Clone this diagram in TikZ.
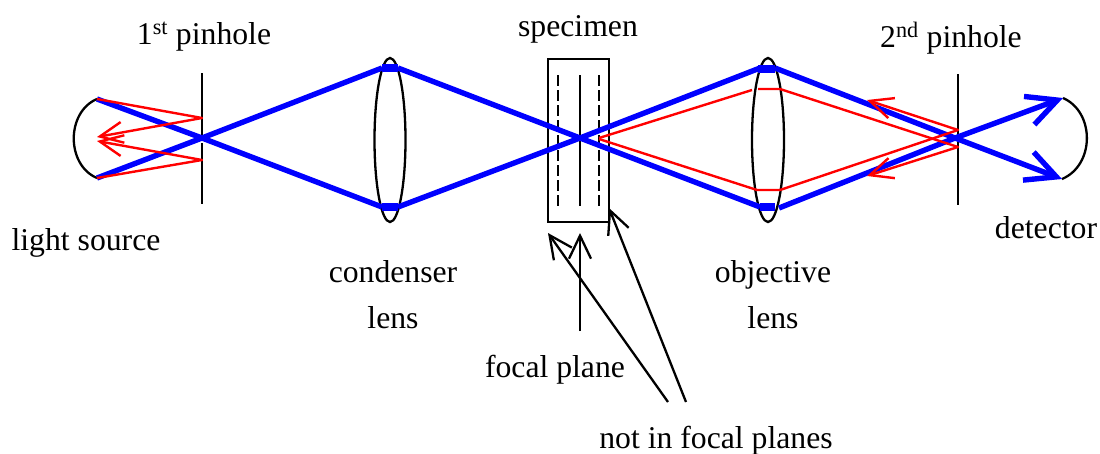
\documentclass[tikz,border=0pt]{standalone}
\usepackage{fontspec}
\setmainfont{Liberation Serif}
\usetikzlibrary{arrows.meta}
\tikzset{
  label text/.style={anchor=base,inner sep=0pt,font=\fontsize{31.7}{36}\selectfont},
  optic/.style={line width=2.3pt},
  blue ray/.style={blue,line width=5.4pt,line join=round},
  blue bar/.style={blue,line width=7.5pt},
  red ray/.style={red,line width=2.4pt,line join=round},
  black tip/.style={-{Straight Barb[length=23pt,width=22pt]}},
  red tip/.style={-{Straight Barb[length=23pt,width=21pt]}},
  blue tip/.style={-{Straight Barb[length=30pt,width=30pt]}},
}
\begin{document}
\begin{tikzpicture}[x=1pt,y=-1pt]
  \useasboundingbox (0,0) rectangle (1100,453);
  \coordinate (srcT) at (97,99);
  \coordinate (srcB) at (97,178);
  \coordinate (hole1) at (202,138);
  \coordinate (hole1T) at (202,118);
  \coordinate (hole1B) at (202,160);
  \coordinate (focus) at (580,138);
  \coordinate (hole2) at (955,138);
  \coordinate (hole2T) at (958,130);
  \coordinate (hole2B) at (958,147);
  \coordinate (detT) at (1063,98);
  \coordinate (detB) at (1062,179);

  \draw[optic] (srcT) .. controls (66,112) and (66,165) .. (srcB);
  \draw[optic] (detT) .. controls (1095,112) and (1095,165) .. (detB);
  \draw[optic] (202,73)--(202,139) (202,143)--(202,204);
  \draw[optic] (958,74)--(958,205);
  \draw[optic] (390,140) ellipse[x radius=15.5,y radius=82];
  \draw[optic] (768,140) ellipse[x radius=16,y radius=82];
  \draw[optic] (548,59) rectangle (609,222);
  \draw[optic] (580,75)--(580,206);
  \draw[optic,dash pattern=on 11pt off 4pt] (558,75)--(558,206);
  \draw[optic,dash pattern=on 11pt off 4pt] (599,75)--(599,206);

  \draw[blue ray] (srcT)--(hole1)--(382,207);
  \draw[blue ray] (398,207)--(focus)--(760,68);
  \draw[blue ray,blue tip] (775,68)--(hole2)--(detB);
  \draw[blue ray] (srcB)--(hole1)--(382,68);
  \draw[blue ray] (398,68)--(focus)--(760,207);
  \draw[blue ray,blue tip] (779,208)--(hole2)--(detT);
  \draw[blue bar] (382,68)--(398,68);
  \draw[blue bar] (382,207)--(398,207);
  \draw[blue bar] (758,69)--(775,69);
  \draw[blue bar] (760,207)--(775,207);

  \draw[red ray,red tip] (srcT)--(hole1T)--(97,137);
  \draw[red ray,red tip] (srcB)--(hole1B)--(97,141);
  \draw[red ray] (599,138)--(752,90);
  \draw[red ray,red tip] (758,89)--(780,89)--(hole2B)--(867,176);
  \draw[red ray,red tip] (599,139)--(757,190)--(780,190)--(hole2T)--(867,100);

  \node[label text] (pin1) at (204,44) {1\textsuperscript{st} pinhole};
  \node[label text] (spec) at (578,36) {specimen};
  \node[label text] (pin2) at (951,47) {2\textsuperscript{nd} pinhole};
  \node[label text] (source) at (86,250) {light source};
  \node[label text] (det) at (1046,238) {detector};
  \node[label text] (cond) at (393,282) {condenser};
  \node[label text] (condl) at (393,328) {lens};
  \node[label text] (obj) at (773,282) {objective};
  \node[label text] (objl) at (773,328) {lens};
  \node[label text] (focal) at (555,377) {focal plane};
  \node[label text] (notf) at (716,448) {not in focal planes};

  \coordinate (focalS) at (580,331);
  \coordinate (focalE) at (580,233);
  \coordinate (notS) at (668,402);
  \coordinate (notE) at (548,233);
  \coordinate (notR) at (686,402);
  \coordinate (notQ) at (609,208);
  \draw[optic,black tip] (focalS)--(focalE);
  \draw[optic,black tip] (notS)--(notE);
  \draw[optic,black tip] (notR)--(notQ);
\end{tikzpicture}
\end{document}
